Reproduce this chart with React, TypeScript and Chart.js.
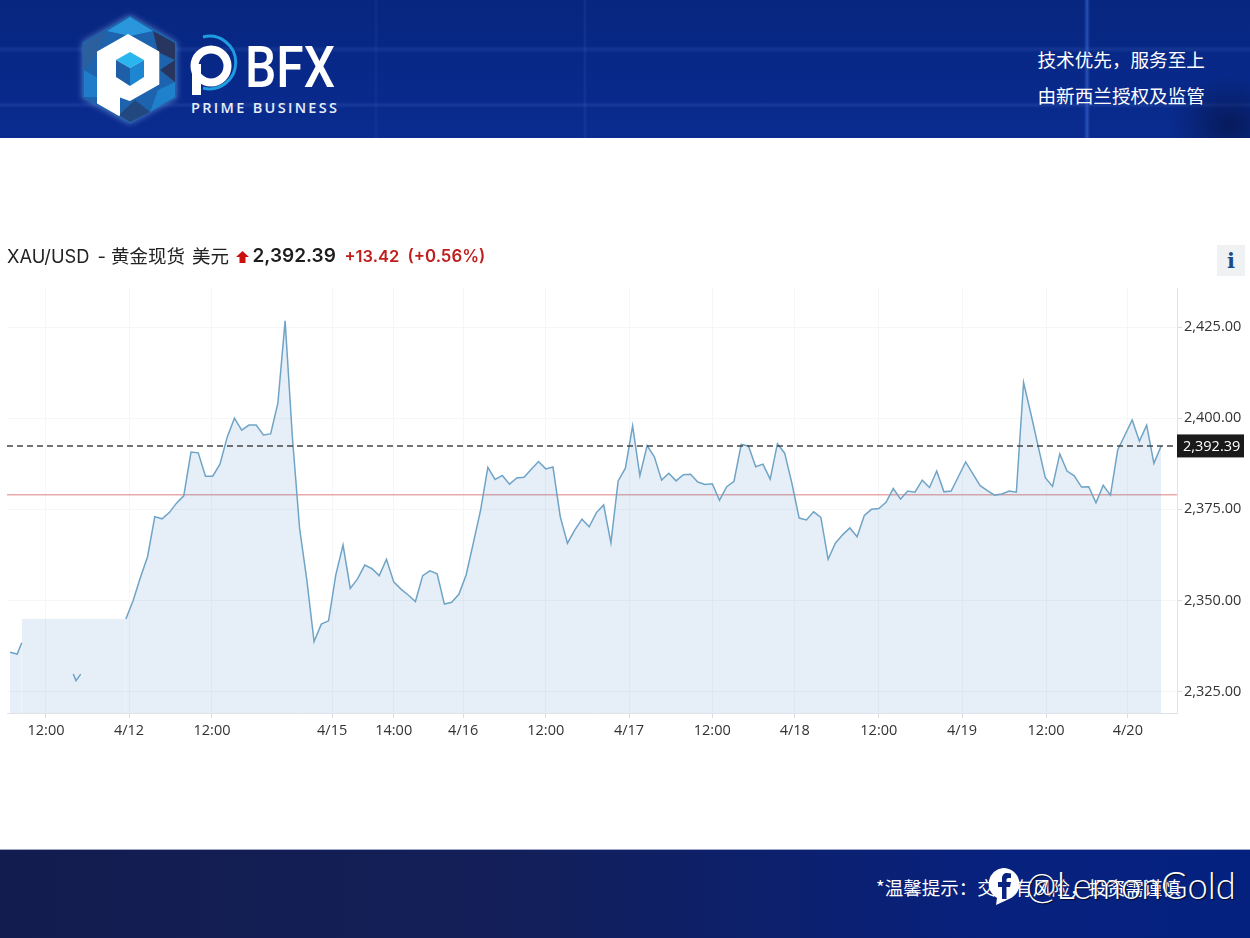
import React, { useEffect, useRef } from "react";
import { Chart, registerables } from "chart.js";

Chart.register(...registerables);

// Tick positions are expressed in sample-index units of the x axis.
const xTickPositions = [4.97, 16.44, 27.9, 44.5, 53.0, 62.6, 74.0, 85.5, 97.0, 108.4, 120.0, 131.5, 143.1, 154.4];
const xTickLabels = ["12:00", "4/12", "12:00", "4/15", "14:00", "4/16", "12:00", "4/17", "12:00", "4/18", "12:00", "4/19", "12:00", "4/20"];
const yTicks = [2325, 2350, 2375, 2400, 2425];

const leadX = [0, 1, 1.62];
const leadValues = [2335.8, 2335.3, 2338.4];
const fragmentX = [8.74, 9.12, 9.77];
const fragmentValues = [2329.8, 2328.0, 2329.8];
const plateauX = [1.62, 16];
const plateauValues = [2344.9, 2344.9];

const mainStart = 16;
const mainValues = [
  2344.9, 2349.9, 2356.2, 2362.0, 2373.0, 2372.4, 2374.1, 2376.7, 2378.7, 2390.7,
  2390.5, 2384.1, 2384.1, 2387.4, 2394.8, 2400.0, 2396.7, 2398.1, 2398.1, 2395.4,
  2395.7, 2404.1, 2426.7, 2394.9, 2369.8, 2355.6, 2338.7, 2343.5, 2344.4, 2357.0,
  2365.2, 2353.3, 2355.9, 2359.7, 2358.7, 2356.8, 2361.3, 2355.1, 2353.1, 2351.5,
  2349.7, 2356.8, 2358.1, 2357.3, 2349.0, 2349.5, 2351.7, 2357.0, 2365.8, 2374.8,
  2386.5, 2383.2, 2384.3, 2381.9, 2383.6, 2383.8, 2386.0, 2388.1, 2386.1, 2386.6,
  2373.0, 2365.7, 2369.3, 2372.3, 2370.2, 2374.1, 2376.2, 2365.8, 2382.8, 2386.3,
  2397.9, 2384.2, 2392.5, 2389.4, 2383.0, 2384.9, 2382.8, 2384.5, 2384.6, 2382.5,
  2381.8, 2382.0, 2377.5, 2381.2, 2382.7, 2392.8, 2392.4, 2386.7, 2387.4, 2383.3,
  2393.0, 2390.4, 2382.1, 2372.6, 2372.1, 2374.3, 2372.8, 2361.3, 2365.7, 2368.0,
  2369.9, 2367.5, 2373.3, 2375.0, 2375.2, 2376.9, 2380.7, 2377.8, 2380.0, 2379.7,
  2383.0, 2381.0, 2385.5, 2379.8, 2380.0, 2384.0, 2388.0, 2384.7, 2381.5, 2380.1,
  2378.9, 2379.2, 2380.0, 2379.7, 2409.8, 2401.3, 2392.4, 2383.7, 2381.3, 2390.2,
  2385.5, 2384.2, 2381.1, 2381.2, 2376.8, 2381.6, 2378.9, 2391.3, 2395.4, 2399.5,
  2393.7, 2398.1, 2387.6, 2392.39,
];

const lastPrice = 2392.39;
const previousClose = 2378.97;

const xMin = -0.414;
const xMax = 161.19;
const yMin = 2319.12;
const yMax = 2435.72;

const LINE = "#6fa4c6";
const FILL = "rgba(60,130,190,0.13)";
const AXIS_FONT = "'Open Sans', sans-serif";
const CJK = "'Noto Sans CJK SC', 'Noto Sans', sans-serif";
const INTER = "Inter, 'Open Sans', sans-serif";

const pair = (xs: number[], ys: number[]) => xs.map((x, i) => ({ x, y: ys[i] }));

const priceBox = {
  id: "priceBox",
  afterDraw(chart: any) {
    const y = chart.scales.y.getPixelForValue(lastPrice);
    const { ctx, chartArea } = chart;
    ctx.save();
    ctx.fillStyle = "#1a1a1a";
    ctx.fillRect(chartArea.right, y - 11.5, 67, 23);
    ctx.fillStyle = "#ffffff";
    ctx.font = `14.5px ${AXIS_FONT}`;
    ctx.textAlign = "left";
    ctx.textBaseline = "middle";
    ctx.fillText(lastPrice.toLocaleString("en-US", { minimumFractionDigits: 2 }), chartArea.right + 6, y + 0.5);
    ctx.restore();
  },
};

function Logo() {
  return (
    <svg width={1250} height={138} style={{ position: "absolute", left: 0, top: 0 }}>
      <defs>
        <filter id="glow" x="-30%" y="-30%" width="160%" height="160%">
          <feGaussianBlur stdDeviation="3" />
        </filter>
      </defs>
      <polygon points="130,17 175,43 175,97 130,122 84,97 84,43" fill="#9fc4f5" opacity="0.5" filter="url(#glow)" stroke="#9fc4f5" strokeWidth="3" />
      <polygon points="130,17 175,43 175,97 130,122 84,97 84,43" fill="#1e63ad" stroke="#1e63ad" strokeWidth="3" strokeLinejoin="round" />
      <polygon points="130,17 153,31 130,36 107,31" fill="#2a97dd" />
      <polygon points="84,43 107,31 98,52 84,70" fill="#2b5f9e" />
      <polygon points="153,31 175,43 175,60 158,52" fill="#27355f" />
      <polygon points="175,60 175,82 160,70" fill="#27355f" />
      <polygon points="175,82 175,97 150,112 158,90" fill="#1f80cc" />
      <polygon points="84,70 98,78 98,97 84,97" fill="#1f7cc8" />
      <polygon points="119,115 130,122 150,112 135,100" fill="#23477f" />
      <polygon points="84,97 98,103 115,116 130,122" fill="#2a5fa5" />
      <path d="M128,35 L158.3,52 L158.3,84 L130,100 L119,96 L119,115 L98,103 L98,52 Z" fill="#ffffff" stroke="#ffffff" strokeWidth="2" strokeLinejoin="round" />
      <polygon points="130,52 144,60 130,68 116,60" fill="#29b6ee" />
      <polygon points="116,60 130,68 130,86 116,77" fill="#1f5fa8" />
      <polygon points="144,60 144,77 130,86 130,68" fill="#1e86d0" />
      <path d="M203,37 A26.3,26.3 0 1 1 203,88" fill="none" stroke="#1f9be0" strokeWidth="3" />
      <circle cx={211} cy={66} r={16.5} fill="none" stroke="#ffffff" strokeWidth="8" />
      <rect x={192} y={64} width={9} height={31} fill="#ffffff" />
      <text x={245} y={87} textLength={90} lengthAdjust="spacingAndGlyphs" fill="#ffffff" style={{ font: "500 58px Roboto, sans-serif" }}>BFX</text>
      <text x={191} y={113} textLength={146} lengthAdjust="spacing" fill="#e8eef8" style={{ font: "600 14.5px 'Open Sans', sans-serif" }}>PRIME BUSINESS</text>
    </svg>
  );
}

export default function App() {
  const ref = useRef<HTMLCanvasElement>(null);

  useEffect(() => {
    document.body.style.margin = "0";
    const base = { pointRadius: 0, pointHoverRadius: 0, tension: 0 };
    const chart = new Chart(ref.current as HTMLCanvasElement, {
      type: "line",
      data: {
        datasets: [
          {
            ...base,
            label: "last",
            data: pair([xMin, xMax], [lastPrice, lastPrice]),
            borderColor: "#454545",
            borderWidth: 1.5,
            borderDash: [6, 4],
            fill: false,
          },
          {
            ...base,
            label: "main",
            data: mainValues.map((y, i) => ({ x: mainStart + i, y })),
            borderColor: LINE,
            borderWidth: 1.5,
            backgroundColor: FILL,
            fill: "start",
          },
          {
            ...base,
            label: "fragment",
            data: pair(fragmentX, fragmentValues),
            borderColor: LINE,
            borderWidth: 1.5,
            fill: false,
          },
          {
            ...base,
            label: "lead",
            data: pair(leadX, leadValues),
            borderColor: LINE,
            borderWidth: 1.5,
            backgroundColor: FILL,
            fill: "start",
          },
          {
            ...base,
            label: "plateau",
            data: pair(plateauX, plateauValues),
            borderWidth: 0,
            borderColor: "transparent",
            backgroundColor: FILL,
            fill: "start",
          },
          {
            ...base,
            label: "close",
            data: pair([xMin, xMax], [previousClose, previousClose]),
            borderColor: "#eaa9a9",
            borderWidth: 1.5,
            fill: false,
          },
        ],
      },
      options: {
        animation: false,
        responsive: false,
        events: [],
        layout: { padding: { top: 288, left: 7, right: 0, bottom: 0 } },
        plugins: { legend: { display: false }, tooltip: { enabled: false } },
        scales: {
          x: {
            type: "linear",
            min: xMin,
            max: xMax,
            afterBuildTicks: (s: any) => {
              s.ticks = xTickPositions.map((value) => ({ value }));
            },
            afterFit: (s: any) => {
              s.height = 225;
            },
            grid: { color: "#f5f6f8", lineWidth: 1, tickColor: "#d9dde1", tickLength: 5 },
            border: { color: "#dfe3e7", width: 1 },
            ticks: {
              autoSkip: false,
              maxRotation: 0,
              padding: 4,
              color: "#333333",
              font: { family: AXIS_FONT, size: 14.5 },
              callback: (_v: any, i: number) => xTickLabels[i],
            },
          },
          y: {
            position: "right",
            min: yMin,
            max: yMax,
            afterBuildTicks: (s: any) => {
              s.ticks = yTicks.map((value) => ({ value }));
            },
            afterFit: (s: any) => {
              s.width = 73;
            },
            grid: { color: "#f5f6f8", lineWidth: 1, tickColor: "#d9dde1", tickLength: 5 },
            border: { color: "#dfe3e7", width: 1 },
            ticks: {
              padding: 2,
              color: "#333333",
              font: { family: AXIS_FONT, size: 14.5 },
              callback: (v: any) => Number(v).toLocaleString("en-US", { minimumFractionDigits: 2 }),
            },
          },
        },
      } as any,
      plugins: [priceBox],
    });
    return () => chart.destroy();
  }, []);

  const abs = (left: number, top: number, extra: React.CSSProperties = {}): React.CSSProperties => ({
    position: "absolute",
    left,
    top,
    whiteSpace: "nowrap",
    ...extra,
  });

  return (
    <div style={{ position: "absolute", left: 0, top: 0, width: 1250, height: 938, background: "#fff", overflow: "hidden", fontFamily: CJK }}>
      <div
        style={{
          position: "absolute", left: 0, top: 0, width: 1250, height: 138,
          backgroundColor: "#062a8b",
          backgroundImage: [
            "radial-gradient(ellipse 60px 50px at 1230px 125px, rgba(6,20,70,0.7), rgba(6,20,70,0))",
            "linear-gradient(90deg, transparent 1084px, rgba(70,120,230,0.5) 1087px, transparent 1090px)",
            "linear-gradient(90deg, transparent 583px, rgba(90,130,220,0.14) 585px, transparent 587px)",
            "linear-gradient(90deg, transparent 374px, rgba(90,130,220,0.1) 376px, transparent 378px)",
            "linear-gradient(180deg, transparent 46px, rgba(110,150,230,0.12) 49px, transparent 53px, transparent 102px, rgba(110,150,230,0.14) 105px, transparent 108px)",
            "linear-gradient(180deg, #07267f 0%, #08298a 60%, #0a2c90 100%)",
          ].join(","),
        }}
      />
      <Logo />
      <div style={abs(1037.5, 45, { color: "#fff", fontSize: 18.6, lineHeight: "27px" })}>技术优先，服务至上</div>
      <div style={abs(1037.5, 80.5, { color: "#fff", fontSize: 18.6, lineHeight: "27px" })}>由新西兰授权及监管</div>

      <canvas ref={ref} width={1250} height={938} style={{ position: "absolute", left: 0, top: 0, display: "block" }} />

      <div style={abs(7, 242, { color: "#222", fontFamily: INTER, fontSize: 18.3, lineHeight: "28px" })}>XAU/USD</div>
      <div style={abs(97.5, 242, { color: "#222", fontFamily: INTER, fontSize: 18.3, lineHeight: "28px" })}>-</div>
      <div style={abs(111, 241, { color: "#222", fontSize: 18.5, lineHeight: "28px" })}>黄金现货</div>
      <div style={abs(192, 241, { color: "#222", fontSize: 18.5, lineHeight: "28px" })}>美元</div>
      <svg width={13} height={12} style={{ position: "absolute", left: 235.5, top: 250.5 }}>
        <polygon points="6.5,0 13,6 9.5,6 9.5,12 3.5,12 3.5,6 0,6" fill="#cc1010" />
      </svg>
      <div style={abs(252.5, 242, { color: "#1d1d1f", fontFamily: INTER, fontSize: 19, fontWeight: 600, lineHeight: "28px" })}>2,392.39</div>
      <div style={abs(344.5, 242, { color: "#bf1f1c", fontFamily: INTER, fontSize: 16.5, fontWeight: 600, lineHeight: "28px" })}>+13.42</div>
      <div style={abs(407.5, 242, { color: "#bf1f1c", fontFamily: INTER, fontSize: 16.8, fontWeight: 600, lineHeight: "28px" })}>(+0.56%)</div>

      <div
        style={abs(1217, 245, {
          width: 28, height: 31, background: "#f0f1f3", color: "#1b4a86", textAlign: "center",
          fontFamily: "'DejaVu Serif', serif", fontWeight: 700, fontSize: 21, lineHeight: "32px",
        })}
      >
        i
      </div>

      <div
        style={{
          position: "absolute", left: 0, top: 849, width: 1250, height: 89,
          background: "linear-gradient(90deg, #131c4e 0%, #131f58 40%, #07217e 80%, #05217f 100%)",
          borderTop: "1px solid #9fa8cc", boxSizing: "border-box",
        }}
      />
      <div style={abs(876, 874, { color: "#fff", fontSize: 18.5, lineHeight: "26px" })}>*温馨提示：交易有风险，投资需谨慎</div>
      <svg width={40} height={44} style={{ position: "absolute", left: 985, top: 866 }}>
        <path d="M18,2 A16,16 0 0 1 24,33 L11,39 L12,32 A16,16 0 0 1 18,2 Z" fill="#ffffff" />
        <path d="M17,33 L17,21 L13,21 L13,16 L17,16 L17,12.5 C17,9 19,7 22,7 L26,7.5 L26,12 L23.5,12 C22,12 21.5,13 21.5,14 L21.5,16 L26,16 L25,21 L21.5,21 L21.5,33 Z" fill="#0a2480" />
      </svg>
      <div
        style={abs(1026, 862, {
          color: "#fff", fontFamily: "Lato, 'Open Sans', sans-serif", fontWeight: 300, fontSize: 36.4, lineHeight: "46px",
          textShadow: "1px 1px 1px rgba(0,0,0,0.7)",
        })}
      >
        @LemonGold
      </div>
    </div>
  );
}
